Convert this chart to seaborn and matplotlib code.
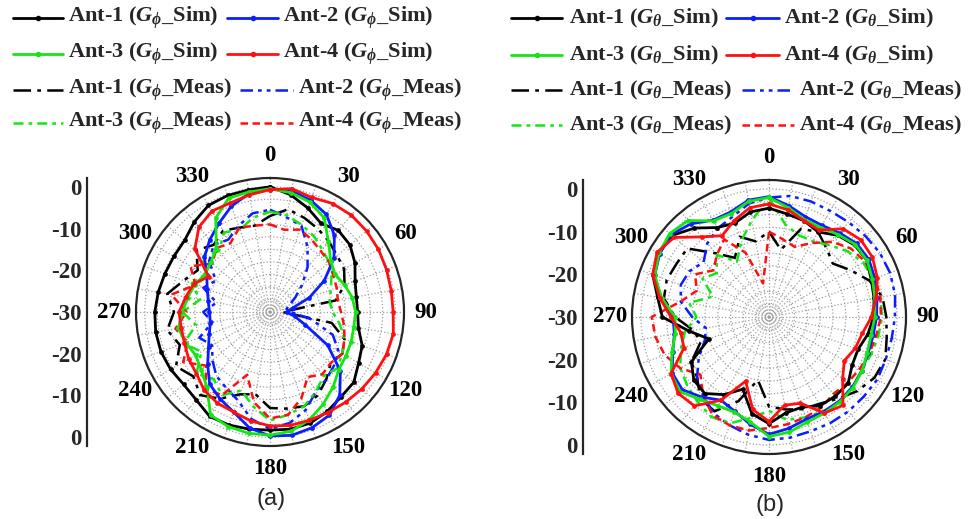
import numpy as np
import matplotlib
matplotlib.use("Agg")
import matplotlib.pyplot as plt
import seaborn as sns
from matplotlib.lines import Line2D
from matplotlib.ticker import FixedLocator, MultipleLocator

# ---------------- data (gain in dB, angles 0..350 step 10, clockwise from top) ----------------
ANGLES_DEG = list(range(0, 360, 10))

# panel (a): G_phi
A_ANT1_SIM = [0, -1.5, -3.5, -5.5, -4.5, -5, -6.5, -8.3, -9, -9,
              -8.5, -6.5, -5.5, -3.8, -3.5, -2.5, -1.7, -1.5, -1.7, -1.5,
              -1.2, -1.1, -2.5, -3, -2.5, -2.2, -2.2, -2.4, -2.8, -3.2,
              -3.4, -3.3, -1.8, -0.5, -0.3, -0.3]
A_ANT2_SIM = [-0.5, -0.5, -1.5, -3, -6, -10, -15, -20, -24.5, -26,
              -24, -21, -14, -8, -4, -1.5, -0.5, 0, -0.3, -1.8,
              -4.5, -6, -7.5, -10.5, -13, -14.5, -15.5, -15.5, -15, -14,
              -12.5, -9.5, -7.5, -5.5, -3, -1.2]
A_ANT3_SIM = [-0.5, -1, -2, -4, -8.2, -11, -12, -11, -10, -9.5,
              -9.6, -9.3, -9, -8.5, -6.5, -4.5, -2.5, -1, -0.5, -0.5,
              -0.8, -1.5, -6.5, -8.5, -9.4, -8.5, -7.7, -9, -10, -10.8,
              -12, -11.5, -10, -4, -1, -0.8]
A_ANT4_SIM = [-0.7, 0, -0.8, 0, 0.3, 0.2, 0, -0.3, -0.5, -0.5,
              0, -0.3, -0.8, -1.3, -1.8, -2.2, -2.4, -2.4, -2.7, -3.5,
              -4.5, -4.8, -5.5, -7, -7.5, -8.2, -8.4, -8.2, -9.5, -10.5,
              -13, -6.5, -3.5, -2.1, -2.2, -1.5]
A_ANT1_MEAS = [-7, -5, -6, -7, -8, -9, -9.5, -11, -14, -27,
               -15, -11, -10, -11, -9, -7, -6, -6.5, -7, -10,
               -9, -6, -4, -6, -4, -7, -5, -7, -5, -8,
               -10, -7, -9, -7.5, -8.5, -9]
A_ANT2_MEAS = [-5.5, -7, -8, -12, -16, -20, -23, -25, -26, -25,
               -20, -14, -11, -10, -9, -8, -5, -3, -2, -4,
               -7.5, -9, -10, -12, -14, -12, -16, -14, -17, -13,
               -15, -11, -9, -10, -8, -6]
A_ANT3_MEAS = [-6, -6.5, -7.8, -9, -10.5, -11.5, -13, -14.5, -15.5, -15,
               -13, -11, -10, -9, -10, -8, -6, -5, -4, -7,
               -10, -7, -9, -7, -11, -8, -12, -9, -13, -10,
               -12, -9, -11, -8, -9, -7]
A_ANT4_MEAS = [-9, -10, -9, -10, -11, -11.5, -12.5, -13, -13.5, -13,
               -12, -11, -10, -11, -10.5, -12, -8, -5, -4.5, -8,
               -14, -7, -6, -10, -6, -9, -7, -10, -6, -11,
               -8, -12, -10, -11, -8.5, -9]

# panel (b): G_theta
B_ANT1_SIM = [-4.5, -5.5, -6, -7, -5, -3.8, -3.5, -4.5, -5, -5.5,
              -6.5, -7.8, -7.5, -5.8, -5.8, -6, -7.5, -7.2, -5, -7,
              -12, -9, -6.6, -7, -9, -15, -11, -5, -3.5, -1,
              -0.2, -0.3, -2.8, -5.8, -6.6, -5]
B_ANT2_SIM = [-1.8, -3.5, -5, -5.2, -4.3, -3.2, -3, -3.6, -4.3, -4.8,
              -5.2, -5.3, -4.8, -4.5, -4.3, -4.4, -4.5, -3.5, -2.5, -4.5,
              -6.5, -7.5, -5.5, -3.5, -3.8, -6, -7.5, -7.5, -4, -1.5,
              -0.4, 0, -1.5, -3.8, -3.8, -2.2]
B_ANT3_SIM = [-2, -4, -5.7, -5.8, -4.8, -3.6, -3.5, -4.2, -4.8, -5.2,
              -5.7, -5.5, -4.8, -4.3, -4.1, -4, -3.8, -2.6, -2, -5,
              -6.3, -6, -4.8, -2.8, -3.5, -5.8, -7.7, -8, -4.5, -1.5,
              -0.2, 0.4, -0.5, -4, -4.2, -2.5]
B_ANT4_SIM = [-3.5, -4.5, -6, -6.5, -3, -1.9, -2, -3, -4.5, -6,
              -7.8, -8.5, -9.6, -7.5, -3, -4, -8.5, -9, -5.5, -8,
              -14, -7.5, -2.8, -2.2, -3.5, -8.8, -9, -7, -4, -1,
              0.3, -1, -5.5, -8, -6, -4]
B_ANT1_MEAS = [-10, -14, -8, -7, -9, -10.5, -8, -5, -3, -2.5,
               -2, -1, -1.5, -3, -5, -6.5, -7, -8, -9, -15,
               -9, -4.5, -5, -8, -9, -13, -12, -8, -5, -4.5,
               -5, -5, -10.5, -14, -10, -12]
B_ANT2_MEAS = [-2, -1.2, -1.2, -1.3, -1, -0.5, 0, 0.2, 0, -0.5,
               -0.8, -0.9, -0.7, -1, -1.1, -1.3, -1.5, -1.3, -1.2, -2,
               -3, -4, -6, -8, -11, -14, -15, -12, -9, -8,
               -8.5, -10, -7.5, -6, -5, -3]
B_ANT3_MEAS = [-2, -8, -9.6, -9.5, -8, -6, -4.5, -4, -3.5, -3.5,
               -4, -4.5, -5, -4.5, -4, -4.5, -5, -5.5, -8, -6,
               -3.5, -3, -4, -5, -6, -8, -10, -13, -11, -16,
               -12, -14, -11, -15, -11, -7]
B_ANT4_MEAS = [-10, -11.5, -12.5, -10, -7, -5, -4, -3.5, -3.5, -3.8,
               -4.5, -5, -5.5, -6, -6.5, -5.5, -5, -4.5, -4, -3,
               -3, -3.5, -6, -9, -6, -4, -3, -2.5, -9, -12,
               -10, -13, -11, -9, -14, -22]

THETA_LABELS = ["0", "30", "60", "90", "120", "150", "180", "210", "240", "270", "300", "330"]
RADIAL_TICKS = [30, 20, 10, 0, -10, -20, -30]
RADIAL_LABELS = ["0", "-10", "-20", "-30", "-20", "-10", "0"]

LEGEND_A = [r"Ant-1 ($G_{\phi}$_Sim)", r"Ant-2 ($G_{\phi}$_Sim)",
            r"Ant-3 ($G_{\phi}$_Sim)", r"Ant-4 ($G_{\phi}$_Sim)",
            r"Ant-1 ($G_{\phi}$_Meas)", r"Ant-2 ($G_{\phi}$_Meas)",
            r"Ant-3 ($G_{\phi}$_Meas)", r"Ant-4 ($G_{\phi}$_Meas)"]
LEGEND_B = [r"Ant-1 ($G_{\theta}$_Sim)", r"Ant-2 ($G_{\theta}$_Sim)",
            r"Ant-3 ($G_{\theta}$_Sim)", r"Ant-4 ($G_{\theta}$_Sim)",
            r"Ant-1 ($G_{\theta}$_Meas)", r"Ant-2 ($G_{\theta}$_Meas)",
            r"Ant-3 ($G_{\theta}$_Meas)", r"Ant-4 ($G_{\theta}$_Meas)"]

# ---------------- styles ----------------
C_BLACK, C_BLUE, C_GREEN, C_RED = "#000000", "#0a1eff", "#14e614", "#ff1010"
SIM_STYLE = [dict(color=c, linestyle="-", linewidth=2.0, marker="o", markersize=3.4,
                  markeredgewidth=0) for c in (C_BLACK, C_BLUE, C_GREEN, C_RED)]
MEAS_STYLE = [
    dict(color=C_BLACK, linestyle=(0, (7, 2.5, 1.5, 2.5)), linewidth=1.8),
    dict(color=C_BLUE, linestyle=(0, (5, 2, 1.5, 2, 1.5, 2)), linewidth=1.8),
    dict(color=C_GREEN, linestyle=(0, (4, 2, 1.5, 2)), linewidth=1.8),
    dict(color=C_RED, linestyle=(0, (3, 1.8)), linewidth=1.8),
]

sns.set_style("white")
plt.rcParams["font.family"] = ["Liberation Serif", "DejaVu Serif"]
plt.rcParams["mathtext.fontset"] = "custom"
plt.rcParams["mathtext.it"] = "Liberation Serif:italic:bold"
plt.rcParams["mathtext.rm"] = "Liberation Serif:bold"
plt.rcParams["mathtext.bf"] = "Liberation Serif:bold"

W, H = 968, 519
fig = plt.figure(figsize=(W / 100, H / 100), dpi=100)
fig.patch.set_facecolor("white")

RMIN, RMAX = -30, 2.1
TICK_FS = 16.5
LEG_FS = 16.1


def fx(px):
    return px / W


def fy(py):
    return 1 - py / H


def draw_panel(cx, cy, R, axis_x, sims, meass):
    ax = fig.add_axes([fx(cx - R), fy(cy + R), 2 * R / W, 2 * R / H], projection="polar")
    th = np.deg2rad(np.append(ANGLES_DEG, 360))
    for vals, st in zip(meass, MEAS_STYLE):
        r = np.append(vals, vals[0])
        sns.lineplot(x=th, y=r, ax=ax, sort=False, estimator=None, errorbar=None,
                     legend=False, **st)
    for vals, st in zip(sims, SIM_STYLE):
        r = np.append(vals, vals[0])
        sns.lineplot(x=th, y=r, ax=ax, sort=False, estimator=None, errorbar=None,
                     legend=False, **st)
    ax.set_theta_zero_location("N")
    ax.set_theta_direction(-1)
    ax.set_ylim(RMIN, RMAX)
    ax.set_yticks(np.arange(-27, 0.1, 3))
    ax.set_yticklabels([])
    ax.set_xticks(np.deg2rad(np.arange(0, 360, 30)))
    ax.set_xticklabels(THETA_LABELS, fontsize=TICK_FS, fontweight="bold")
    ax.xaxis.set_minor_locator(FixedLocator(np.deg2rad(np.arange(0, 360, 10))))
    ax.grid(True, which="major", color="#a0a0a0", linestyle=":", linewidth=0.9)
    ax.xaxis.grid(True, which="minor", color="#a0a0a0", linestyle=":", linewidth=0.9)
    ax.tick_params(axis="x", which="both", direction="in", length=4, width=1.1,
                   colors="black", pad=9)
    ax.spines["polar"].set_linewidth(1.6)
    ax.set_xlabel("")
    ax.set_ylabel("")

    axl = fig.add_axes([fx(axis_x), fy(cy + R), 0.0005, 2 * R / H])
    axl.set_ylim(-(RMAX - RMIN), RMAX - RMIN)
    axl.set_yticks(RADIAL_TICKS)
    axl.set_yticklabels(RADIAL_LABELS, fontsize=TICK_FS, fontweight="bold")
    axl.yaxis.set_minor_locator(MultipleLocator(5))
    for s in ("top", "right", "bottom"):
        axl.spines[s].set_visible(False)
    axl.spines["left"].set_linewidth(1.6)
    axl.set_xticks([])
    axl.tick_params(axis="y", which="major", direction="in", length=6, width=1.5, pad=4)
    axl.tick_params(axis="y", which="minor", direction="in", length=3.5, width=1.2)
    axl.patch.set_alpha(0)
    return ax


def legend_entry(x0, x1, xt, y, st, text):
    kw = dict(st)
    xs = [fx(x0), fx((x0 + x1) / 2), fx(x1)]
    ys = [fy(y)] * 3
    if "marker" in kw:
        kw["markevery"] = [1]
        kw["markersize"] = 4
    fig.add_artist(Line2D(xs, ys, transform=fig.transFigure, **kw))
    fig.text(fx(xt), fy(y), text, ha="left", va="center", fontsize=LEG_FS, fontweight="bold")


def legend_block(rows, col1, col2a, col2b, labels):
    styles = [SIM_STYLE[0], SIM_STYLE[1], SIM_STYLE[2], SIM_STYLE[3],
              MEAS_STYLE[0], MEAS_STYLE[1], MEAS_STYLE[2], MEAS_STYLE[3]]
    for i in range(4):
        y = rows[i]
        c2 = col2a if i < 2 else col2b
        legend_entry(col1[0], col1[1], col1[2], y, styles[2 * i], labels[2 * i])
        legend_entry(c2[0], c2[1], c2[2], y, styles[2 * i + 1], labels[2 * i + 1])


draw_panel(270, 312, 134, 87,
           [A_ANT1_SIM, A_ANT2_SIM, A_ANT3_SIM, A_ANT4_SIM],
           [A_ANT1_MEAS, A_ANT2_MEAS, A_ANT3_MEAS, A_ANT4_MEAS])
draw_panel(769, 317, 137, 583,
           [B_ANT1_SIM, B_ANT2_SIM, B_ANT3_SIM, B_ANT4_SIM],
           [B_ANT1_MEAS, B_ANT2_MEAS, B_ANT3_MEAS, B_ANT4_MEAS])

legend_block([18, 54, 90, 123], (13, 63, 68), (227, 278, 283), (240, 293, 298), LEGEND_A)
legend_block([18, 55, 90, 125], (511, 562, 569), (726, 779, 784), (742, 794, 799), LEGEND_B)

fig.text(fx(271), fy(499), "(a)", ha="center", va="center", fontsize=17, family="Liberation Sans")
fig.text(fx(770), fy(505), "(b)", ha="center", va="center", fontsize=17, family="Liberation Sans")

fig.savefig("out.png", dpi=100, facecolor="white")
